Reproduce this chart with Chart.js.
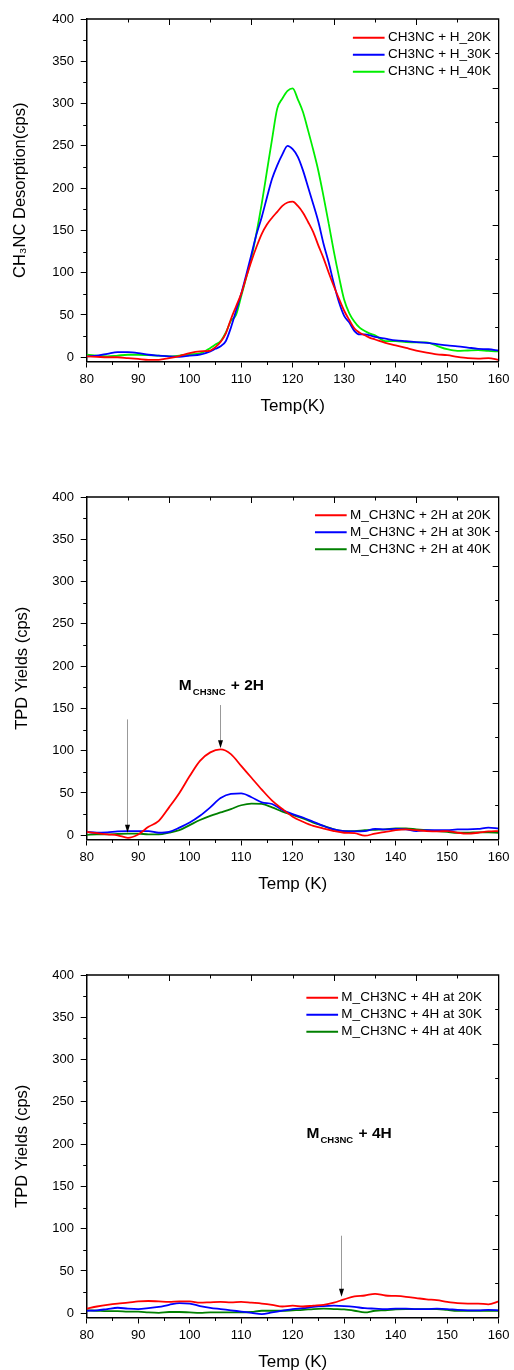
<!DOCTYPE html>
<html>
<head>
<meta charset="utf-8">
<script src="https://cdn.jsdelivr.net/npm/chart.js@4.4.0/dist/chart.umd.min.js"></script>
<style>
  html, body { margin: 0; padding: 0; background: #fff; overflow: hidden; }
  #wrap { position: relative; width: 514px; height: 1370px; overflow: hidden; }
  .panel { position: absolute; left: 0; width: 514px; height: 478px; }
</style>
</head>
<body>
<div id="wrap">
  <div class="panel" style="top:0px"><canvas id="c1" width="514" height="478"></canvas></div>
  <div class="panel" style="top:478px"><canvas id="c2" width="514" height="478"></canvas></div>
  <div class="panel" style="top:956px"><canvas id="c3" width="514" height="478"></canvas></div>
</div>
<script>
// axis ticks (same on all three panels)
const xTicks = [80, 90, 100, 110, 120, 130, 140, 150, 160];
const xMinor = [85, 95, 105, 115, 125, 135, 145, 155];
const yTicks = [0, 50, 100, 150, 200, 250, 300, 350, 400];
const yMinor = [25, 75, 125, 175, 225, 275, 325, 375];

// panel 1 : CH3NC + H
const temps1 = [80, 82, 84, 86, 88, 90, 92, 94, 96, 98, 100, 102, 104,
  105, 106, 107, 108, 109, 110, 111, 112, 113, 114, 115, 116, 117, 118, 119, 120,
  121, 122, 123, 124, 125, 126, 127, 128, 129, 130, 131, 132, 133, 134, 135, 136,
  138, 140, 142, 144, 146, 148, 150, 152, 154, 156, 158, 160];
const h20K = [1, 0.5, 0, 0, -1, -2, -3, -3, -1, 1.5, 5, 7, 8,
  12, 18, 28, 45, 60, 75, 95, 114, 131, 146, 157, 165, 172, 179, 183, 184,
  179, 171, 160, 148, 132, 117, 100, 84, 69, 55, 44, 34, 29, 26, 23, 21,
  17, 14, 11, 8, 5.5, 3.5, 2.5, 0.5, -1, -1.5, -1, -3];
const h30K = [1, 2, 4, 6, 6, 5, 3, 2, 1, 0.5, 2, 3, 7,
  10, 13, 19, 35, 55, 75, 98, 122, 146, 166, 189, 211, 227, 240, 250, 246,
  237, 221, 201, 181, 160, 134, 112, 87, 65, 49, 41, 31, 27, 27, 26, 24,
  22, 20, 19, 18, 17, 15.5, 14, 13, 11.5, 10, 9.5, 8];
const h40K = [3, 2, 1, 2, 3, 3, 2.5, 2, 1, 2, 3.5, 4.5, 11,
  15, 19, 29, 43, 50, 72, 95, 118, 148, 182, 220, 258, 294, 306, 315, 318,
  305, 290, 268, 245, 220, 190, 158, 125, 95, 68, 52, 42, 35, 31, 28, 26,
  19, 19, 18, 17.5, 17.5, 13.5, 9.5, 7.5, 8, 8.5, 7.5, 7];

// panel 2 : M_CH3NC + 2H
const temps2 = [80, 82, 84, 86, 88, 90, 92, 94, 96, 98, 100, 102, 104, 106, 108, 110,
  112, 114, 116, 118, 120, 122, 124, 126, 128, 130, 132, 134, 136, 138, 140,
  142, 144, 146, 148, 150, 152, 154, 156, 158, 160];
const twoH20K = [4, 2.5, 1, 0, -3, 1, 10, 17, 33, 50, 70, 88, 98, 101.5, 96, 82,
  68, 54, 41, 31, 22, 16, 11, 8, 5, 3, 2.5, -0.5, 2, 4, 6,
  7, 6, 5, 4.5, 5, 3, 2, 3, 4.5, 5];
const twoH30K = [4, 3, 3.5, 4.5, 5, 5, 5, 3, 4, 9, 15, 23, 33, 44, 49, 49.5,
  45, 39, 37, 30, 25, 21, 16, 11, 7, 5, 4.5, 5, 7.5, 7, 7.5,
  7, 5, 6, 6, 6, 7, 7, 7.5, 9, 8];
const twoH40K = [0.5, 1, 1, 1.5, 2, 2, 1, 1, 3, 6, 12, 18, 23, 27, 31, 35.5,
  37.5, 37, 33, 28, 24, 20, 15, 11, 7, 5, 5, 6, 6.5, 7, 8,
  8, 7, 6, 5, 4, 3, 3, 3.5, 3.5, 3];

// panel 3 : M_CH3NC + 4H
const temps3 = temps2;
const fourH20K = [5.5, 8, 10, 11.5, 12.5, 14, 14.5, 14, 13.5, 14, 14, 12.5, 13, 13.5, 13, 13.5,
  12.5, 11.5, 10, 8, 9, 8, 9, 10, 12.5, 16.5, 20, 21, 23, 21, 20.5,
  19.5, 18, 16.5, 15.5, 13.5, 12, 11.5, 11.5, 10.5, 14];
const fourH30K = [3, 3.5, 5, 6.5, 5.5, 5, 6, 7.5, 10, 12, 11.5, 8.5, 6.5, 5, 3.5, 2,
  0.5, -1, 1, 3, 5, 6, 7.5, 8.5, 9, 8.5, 7.5, 6, 5.5, 5, 5.5,
  5.5, 5, 5, 5.5, 5, 4, 3.5, 3.5, 4, 3.5];
const fourH40K = [3.5, 3, 2.5, 2.5, 2, 2, 1, 0.5, 1.5, 1.5, 1, 0.5, 1, 1, 1, 1,
  1.5, 3, 3, 3, 3.5, 4, 5, 5.5, 5, 4.5, 3, 1, 3, 3.5, 4.5,
  5, 5, 5, 5, 4, 3, 3, 3, 3, 3];

const FONT = '"Liberation Sans", Arial, sans-serif';

// Origin style frame: minor ticks outside, top/right axes with inward ticks
const originFrame = {
  id: "originFrame",
  afterDraw(chart) {
    const { ctx, chartArea: a, scales } = chart;
    ctx.save();
    ctx.strokeStyle = "#000";
    ctx.lineWidth = 1.3;
    ctx.beginPath();
    ctx.moveTo(a.left, a.top);
    ctx.lineTo(a.right, a.top);
    ctx.lineTo(a.right, a.bottom);
    ctx.stroke();
    ctx.lineWidth = 1;
    ctx.beginPath();
    xMinor.forEach((v) => {
      const px = Math.round(scales.x.getPixelForValue(v)) + 0.5;
      ctx.moveTo(px, a.bottom);
      ctx.lineTo(px, a.bottom + 3.5);
    });
    yMinor.forEach((v) => {
      const py = Math.round(scales.y.getPixelForValue(v)) + 0.5;
      ctx.moveTo(a.left, py);
      ctx.lineTo(a.left - 3.5, py);
    });
    for (let k = 1; k < 10; k++) {
      const len = k % 2 ? 3.5 : 6;
      const px = Math.round(a.left + ((a.right - a.left) * k) / 10) + 0.5;
      ctx.moveTo(px, a.top);
      ctx.lineTo(px, a.top + len);
      const py = Math.round(a.bottom - ((a.bottom - a.top) * k) / 10) + 0.5;
      ctx.moveTo(a.right, py);
      ctx.lineTo(a.right - len, py);
    }
    ctx.stroke();
    ctx.restore();
  },
};

// legend drawn inside the plot, top right, no box
const insideLegend = {
  id: "insideLegend",
  afterDraw(chart, args, opts) {
    const { ctx, chartArea: a } = chart;
    const sets = chart.data.datasets;
    ctx.save();
    ctx.font = `13.5px ${FONT}`;
    const w = Math.max(...sets.map((d) => ctx.measureText(d.label).width));
    const tx = a.right - opts.right - w;
    sets.forEach((d, i) => {
      const y = a.top + opts.top + i * 17;
      ctx.strokeStyle = d.borderColor;
      ctx.lineWidth = 2;
      ctx.beginPath();
      ctx.moveTo(tx - 35, y);
      ctx.lineTo(tx - 3.3, y);
      ctx.stroke();
      ctx.fillStyle = "#000";
      ctx.textBaseline = "middle";
      ctx.fillText(d.label, tx, y);
    });
    ctx.restore();
  },
};

// peak label and arrows, placed in data coordinates
const peakNotes = {
  id: "peakNotes",
  afterDraw(chart, args, opts) {
    const { ctx } = chart;
    const x = chart.scales.x, y = chart.scales.y;
    ctx.save();
    (opts.arrows || []).forEach((ar) => {
      const px = Math.round(x.getPixelForValue(ar.x)) + 0.5;
      const top = y.getPixelForValue(ar.from);
      const tip = y.getPixelForValue(ar.to);
      ctx.strokeStyle = "#999";
      ctx.lineWidth = 1;
      ctx.beginPath();
      ctx.moveTo(px, top);
      ctx.lineTo(px, tip - 6);
      ctx.stroke();
      ctx.fillStyle = "#000";
      ctx.beginPath();
      ctx.moveTo(px - 2.5, tip - 8);
      ctx.lineTo(px + 2.5, tip - 8);
      ctx.lineTo(px, tip);
      ctx.closePath();
      ctx.fill();
    });
    (opts.labels || []).forEach((lb) => {
      let px = x.getPixelForValue(lb.x);
      const py = y.getPixelForValue(lb.y);
      ctx.fillStyle = "#000";
      ctx.textBaseline = "alphabetic";
      ctx.font = `bold 15.5px ${FONT}`;
      ctx.fillText(lb.main, px, py);
      px += ctx.measureText(lb.main).width + 1;
      ctx.font = `bold 9.5px ${FONT}`;
      ctx.fillText(lb.sub, px, py + 5);
      px += ctx.measureText(lb.sub).width + 1;
      ctx.font = `bold 15.5px ${FONT}`;
      ctx.fillText(lb.rest, px, py);
    });
    ctx.restore();
  },
};

function makeChart(id, temps, series, titles, legendPos, notes) {
  return new Chart(document.getElementById(id), {
    type: "line",
    data: {
      datasets: series.map((s) => ({
        label: s.label,
        data: temps.map((t, i) => ({ x: t, y: s.values[i] })),
        borderColor: s.color,
        borderWidth: 1.8,
        pointRadius: 0,
        cubicInterpolationMode: "monotone",
        fill: false,
      })),
    },
    options: {
      responsive: false,
      animation: false,
      events: [],
      layout: { padding: { top: 19, right: 10.7, bottom: 63, left: 0 } },
      plugins: {
        legend: { display: false },
        tooltip: { enabled: false },
        insideLegend: legendPos,
        peakNotes: notes,
      },
      scales: {
        x: {
          type: "linear",
          min: 80,
          max: 160,
          afterBuildTicks: (s) => { s.ticks = xTicks.map((v) => ({ value: v })); },
          afterFit: (s) => { s.height = 53.5; },
          grid: { drawOnChartArea: false, tickLength: 6, tickColor: "#000", tickWidth: 1 },
          border: { color: "#000", width: 1.5 },
          ticks: { color: "#000", font: { family: FONT, size: 13 }, padding: 4.5, maxRotation: 0, autoSkip: false },
          title: { display: true, text: titles.x, color: "#000", font: { family: FONT, size: 17, lineHeight: 1 }, padding: 0 },
        },
        y: {
          min: -5,
          max: 400,
          afterBuildTicks: (s) => { s.ticks = yTicks.map((v) => ({ value: v })); },
          afterFit: (s) => { s.width = 86.7; },
          grid: { drawOnChartArea: false, tickLength: 6, tickColor: "#000", tickWidth: 1 },
          border: { color: "#000", width: 1.5 },
          ticks: { color: "#000", font: { family: FONT, size: 13 }, padding: 6.7, autoSkip: false },
          title: { display: true, text: titles.y, color: "#000", font: { family: FONT, size: 16.5, lineHeight: 1 }, padding: { top: titles.yPad, bottom: 0 } },
        },
      },
    },
    plugins: [originFrame, insideLegend, peakNotes],
  });
}

makeChart("c1", temps1, [
  { label: "CH3NC + H_20K", values: h20K, color: "#ff0000" },
  { label: "CH3NC + H_30K", values: h30K, color: "#0000ff" },
  { label: "CH3NC + H_40K", values: h40K, color: "#00ee00" },
], { x: "Temp(K)", y: "CH\u2083NC Desorption(cps)", yPad: 11.75 },
{ right: 7.6, top: 18.7 }, {});

makeChart("c2", temps2, [
  { label: "M_CH3NC + 2H at 20K", values: twoH20K, color: "#ff0000" },
  { label: "M_CH3NC + 2H at 30K", values: twoH30K, color: "#0000ff" },
  { label: "M_CH3NC + 2H at 40K", values: twoH40K, color: "#008000" },
], { x: "Temp (K)", y: "TPD Yields (cps)", yPad: 14.4 },
{ right: 8, top: 18.3 },
{
  labels: [{ x: 97.9, y: 171.8, main: "M", sub: "CH3NC", rest: " + 2H" }],
  arrows: [{ x: 87.8, from: 137, to: 3 }, { x: 105.9, from: 154, to: 103 }],
});

makeChart("c3", temps3, [
  { label: "M_CH3NC + 4H at 20K", values: fourH20K, color: "#ff0000" },
  { label: "M_CH3NC + 4H at 30K", values: fourH30K, color: "#0000ff" },
  { label: "M_CH3NC + 4H at 40K", values: fourH40K, color: "#008000" },
], { x: "Temp (K)", y: "TPD Yields (cps)", yPad: 14.4 },
{ right: 16.6, top: 22.7 },
{
  labels: [{ x: 122.7, y: 207.5, main: "M", sub: "CH3NC", rest: " + 4H" }],
  arrows: [{ x: 129.4, from: 91.7, to: 19.4 }],
});
</script>
</body>
</html>
